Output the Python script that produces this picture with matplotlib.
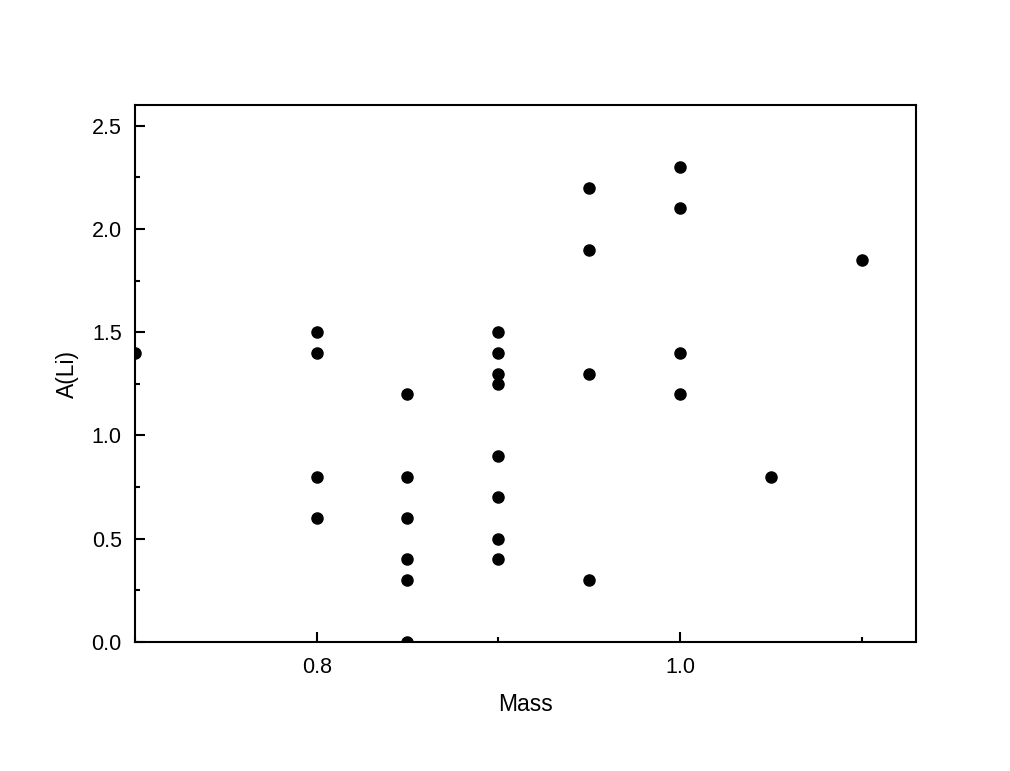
import matplotlib
matplotlib.use("Agg")
import matplotlib.pyplot as plt
from matplotlib.ticker import MultipleLocator, FormatStrFormatter

plt.rcParams['font.family'] = ['Liberation Sans', 'DejaVu Sans']

mass = [0.70,
        0.80, 0.80, 0.80, 0.80,
        0.85, 0.85, 0.85, 0.85, 0.85, 0.85,
        0.90, 0.90, 0.90, 0.90, 0.90, 0.90, 0.90, 0.90,
        0.95, 0.95, 0.95, 0.95,
        1.00, 1.00, 1.00, 1.00,
        1.05,
        1.10]
ali = [1.40,
       1.50, 1.40, 0.80, 0.60,
       1.20, 0.80, 0.60, 0.40, 0.30, 0.00,
       1.50, 1.40, 1.30, 1.25, 0.90, 0.70, 0.50, 0.40,
       2.20, 1.90, 1.30, 0.30,
       2.30, 2.10, 1.40, 1.20,
       0.80,
       1.85]

fig = plt.figure(figsize=(10.10, 7.71), dpi=100)
ax = fig.add_axes([135/1010, 1-642/771, (916-135)/1010, (642-105)/771])
ax.scatter(mass, ali, s=64, color='black', zorder=3)

ax.set_xlim(0.70, 1.13)
ax.set_ylim(0.0, 2.6)
ax.xaxis.set_major_locator(MultipleLocator(0.2))
ax.xaxis.set_minor_locator(MultipleLocator(0.1))
ax.yaxis.set_major_locator(MultipleLocator(0.5))
ax.yaxis.set_minor_locator(MultipleLocator(0.25))
ax.xaxis.set_major_formatter(FormatStrFormatter('%.1f'))
ax.yaxis.set_major_formatter(FormatStrFormatter('%.1f'))

ax.tick_params(which='major', direction='in', length=7.5, width=1.5, labelsize=15.5)
ax.tick_params(axis='x', which='major', pad=11)
ax.tick_params(axis='y', which='major', pad=9.5)
ax.tick_params(which='minor', direction='in', length=3.8, width=1.5)
ax.tick_params(top=False, right=False, which='both')
for sp in ax.spines.values():
    sp.set_linewidth(1.5)

ax.set_xlabel('Mass', fontsize=16.5, labelpad=10.5)
ax.set_ylabel('A(Li)', fontsize=16.5, labelpad=9)

fig.savefig('out.png', dpi=100)
